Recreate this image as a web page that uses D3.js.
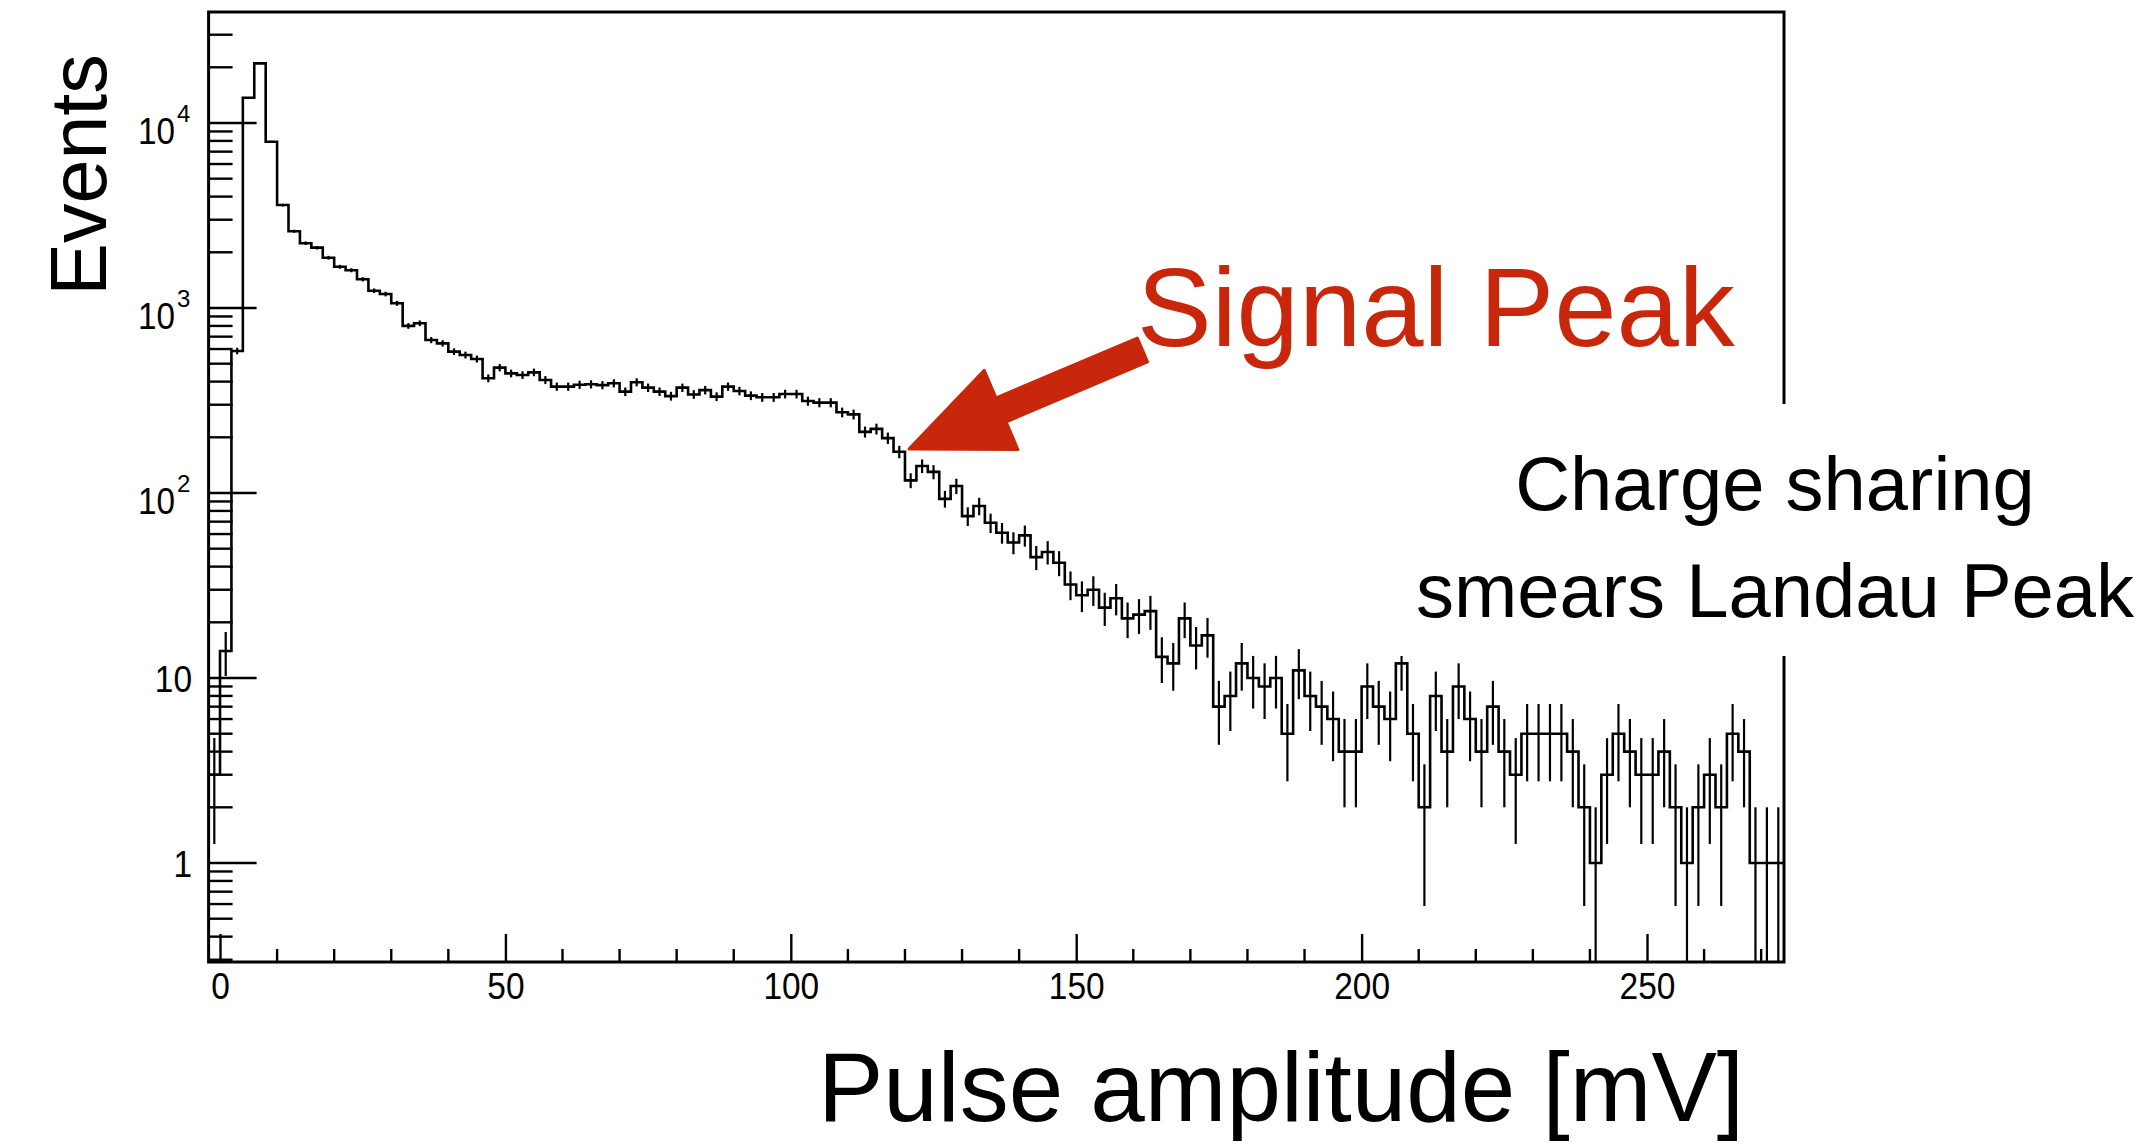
<!DOCTYPE html>
<html><head><meta charset="utf-8">
<script src="https://cdn.jsdelivr.net/npm/d3@7"></script>
<style>
html,body{margin:0;padding:0;background:#fff;}
svg{display:block;}
text{font-family:"Liberation Sans",Arial,Helvetica,sans-serif;fill:#000;}
</style>
</head><body>
<svg id="chart" width="2150" height="1145"></svg>
<script>
// ---------------- data ----------------
const binStart = -2;      // mV, lower edge of first bin
const binWidth = 2;       // mV
const counts = [
  3, 14, 586, 13700, 21000, 7920, 3600, 2600, 2240, 2120,
  1870, 1670, 1600, 1430, 1240, 1190, 1060, 800, 827, 671,
  644, 581, 557, 530, 417, 476, 443, 434, 449, 408,
  376, 376, 385, 387, 383, 392, 353, 397, 371, 353,
  334, 371, 341, 360, 332, 376, 356, 336, 329, 329,
  343, 343, 314, 308, 308, 273, 266, 214, 222, 198,
  167, 117, 140, 130, 93, 109, 75, 85, 69, 61,
  54, 59, 45, 48, 42, 32, 28, 30, 24, 27,
  21, 22, 23, 13, 12, 21, 15, 17, 7, 8,
  12, 10, 9, 10, 5, 11, 8, 7, 6, 4,
  4, 9, 7, 6, 12, 5, 2, 8, 4, 9,
  6, 4, 7, 4, 3, 5, 5, 5, 5, 4,
  2, 1, 3, 5, 4, 3, 3, 4, 2, 1,
  2, 3, 2, 5, 4, 1, 1, 1
];
const xTickValues = [0, 50, 100, 150, 200, 250];
const xTickLabels = ["0", "50", "100", "150", "200", "250"];
const xMinorStep = 10;
const yTickValues = [1, 10, 100, 1000, 10000];
const yTickBases  = ["1", "10", "10", "10", "10"];
const yTickExps   = ["", "", "2", "3", "4"];
const xTitle = "Pulse amplitude [mV]";
const yTitle = "Events";
const peakLabel = "Signal Peak";
const noteLines = ["Charge sharing", "smears Landau Peak"];
const arrowTip  = [120.7, 173];   // data coords (mV, events)
const arrowTail = [161.6, 593];

// ---------------- layout ----------------
const RED = "#c9270b";
const frame = {left: 208.6, right: 1784, top: 12, bottom: 962};
const xMax = binStart + counts.length * binWidth;
const x = d3.scaleLinear().domain([binStart, xMax]).range([frame.left, frame.right]);
const y = d3.scaleLog().domain([0.2917, 39800]).range([frame.bottom, frame.top]);

const svg = d3.select("#chart");
svg.append("rect").attr("width", 2150).attr("height", 1145).attr("fill", "#fff");

svg.append("clipPath").attr("id", "plotclip").append("rect")
  .attr("x", frame.left).attr("y", frame.top)
  .attr("width", frame.right - frame.left).attr("height", frame.bottom - frame.top);

const bins = counts.map((c, i) => ({lo: binStart + i * binWidth, hi: binStart + (i + 1) * binWidth, c}));

// histogram outline
const pts = [];
bins.forEach(b => { pts.push([x(b.lo), y(b.c)]); pts.push([x(b.hi), y(b.c)]); });
const g = svg.append("g").attr("clip-path", "url(#plotclip)");
g.append("path").attr("d", d3.line()(pts))
  .attr("fill", "none").attr("stroke", "#000").attr("stroke-width", 2.6)
  .attr("stroke-linejoin", "miter");

// error bars
g.selectAll("line.err").data(bins).join("line").attr("class", "err")
  .attr("x1", b => x((b.lo + b.hi) / 2)).attr("x2", b => x((b.lo + b.hi) / 2))
  .attr("y1", b => y(b.c + Math.sqrt(b.c)))
  .attr("y2", b => (b.c - Math.sqrt(b.c)) > 0 ? y(b.c - Math.sqrt(b.c)) : frame.bottom + 5)
  .attr("stroke", "#000").attr("stroke-width", 2.2);

// ---------------- axes ----------------
// x axis ticks (pointing inward)
const xAxis = d3.axisBottom(x).tickValues(xTickValues)
  .tickFormat((d, i) => xTickLabels[i]).tickSizeInner(-28).tickSizeOuter(0).tickPadding(11);
const xg = svg.append("g").attr("transform", `translate(0,${frame.bottom})`).call(xAxis);
xg.select(".domain").remove();
xg.selectAll(".tick line").attr("stroke", "#000").attr("stroke-width", 2.4);
xg.selectAll(".tick text").attr("font-size", 37).attr("fill", "#000")
  .attr("textLength", (d, i) => xTickLabels[i].length * 18.6).attr("lengthAdjust", "spacingAndGlyphs");

const xMinor = d3.range(0, xMax, xMinorStep).filter(v => !xTickValues.includes(v));
svg.append("g").selectAll("line").data(xMinor).join("line")
  .attr("x1", d => x(d)).attr("x2", d => x(d))
  .attr("y1", frame.bottom).attr("y2", frame.bottom - 13)
  .attr("stroke", "#000").attr("stroke-width", 2.4);

// y axis ticks
const yMinor = y.ticks().filter(v => !yTickValues.some(t => Math.abs(t - v) < 1e-9));
svg.append("g").selectAll("line").data(yMinor).join("line")
  .attr("x1", frame.left).attr("x2", frame.left + 24)
  .attr("y1", d => y(d)).attr("y2", d => y(d))
  .attr("stroke", "#000").attr("stroke-width", 2.4);
svg.append("g").selectAll("line").data(yTickValues).join("line")
  .attr("x1", frame.left).attr("x2", frame.left + 48)
  .attr("y1", d => y(d)).attr("y2", d => y(d))
  .attr("stroke", "#000").attr("stroke-width", 2.4);

// y tick labels with superscripts
yTickValues.forEach((v, i) => {
  const ty = y(v);
  if (yTickExps[i]) {
    svg.append("text").attr("x", 175).attr("y", ty + 21).attr("text-anchor", "end")
      .attr("font-size", 37).attr("textLength", 37).attr("lengthAdjust", "spacingAndGlyphs")
      .text(yTickBases[i]);
    svg.append("text").attr("x", 177).attr("y", ty - 1).attr("text-anchor", "start")
      .attr("font-size", 24).text(yTickExps[i]);
  } else {
    svg.append("text").attr("x", 192).attr("y", ty + 13.5).attr("text-anchor", "end")
      .attr("font-size", 37).attr("textLength", yTickBases[i].length * 18.6)
      .attr("lengthAdjust", "spacingAndGlyphs").text(yTickBases[i]);
  }
});

// frame
svg.append("rect").attr("x", frame.left).attr("y", frame.top)
  .attr("width", frame.right - frame.left).attr("height", frame.bottom - frame.top)
  .attr("fill", "none").attr("stroke", "#000").attr("stroke-width", 3);

// axis titles
svg.append("text").attr("x", 1281).attr("y", 1121).attr("text-anchor", "middle")
  .attr("font-size", 98).text(xTitle);
svg.append("text").attr("transform", "translate(106,175) rotate(-90)")
  .attr("text-anchor", "middle").attr("font-size", 79).text(yTitle);

// ---------------- annotations ----------------
// white note box (hides the frame edge behind the note)
svg.append("rect").attr("x", 1395).attr("y", 404).attr("width", 755).attr("height", 252).attr("fill", "#fff");
noteLines.forEach((t, i) => {
  svg.append("text").attr("x", 1775).attr("y", 510 + i * 107).attr("text-anchor", "middle")
    .attr("font-size", 76).text(t);
});

svg.append("text").attr("x", 1137).attr("y", 346).attr("font-size", 112)
  .attr("fill", RED).style("fill", RED).text(peakLabel);

// arrow built from data-space endpoints
(function () {
  const tx = x(arrowTip[0]), ty = y(arrowTip[1]);
  const ex = x(arrowTail[0]), ey = y(arrowTail[1]);
  const L = Math.hypot(ex - tx, ey - ty);
  const ux = (ex - tx) / L, uy = (ey - ty) / L;
  const px = -uy, py = ux;
  const headLen = 100, headHalf = 43, shaftHalf = 13;
  const bx = tx + ux * headLen, by = ty + uy * headLen;
  const poly = [
    [tx, ty],
    [bx - px * headHalf, by - py * headHalf],
    [bx - px * shaftHalf, by - py * shaftHalf],
    [ex - px * shaftHalf, ey - py * shaftHalf],
    [ex + px * shaftHalf, ey + py * shaftHalf],
    [bx + px * shaftHalf, by + py * shaftHalf],
    [bx + px * headHalf, by + py * headHalf]
  ];
  svg.append("path").attr("d", "M" + poly.map(p => p.join(",")).join("L") + "Z")
    .attr("fill", RED).attr("stroke", RED).attr("stroke-width", 3).attr("stroke-linejoin", "round");
})();
</script>
</body></html>
